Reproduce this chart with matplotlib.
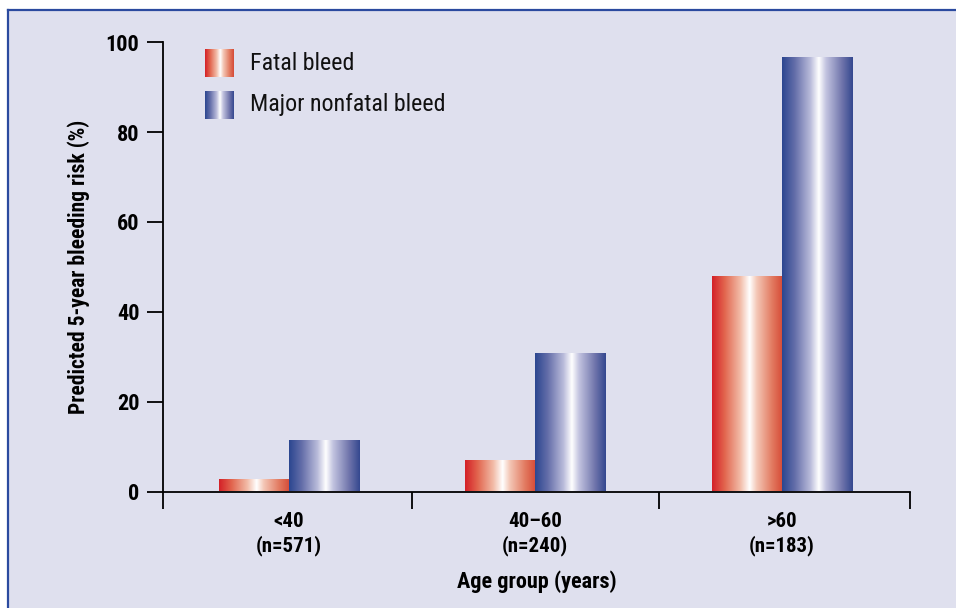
import matplotlib
matplotlib.use("Agg")
import matplotlib.pyplot as plt
import numpy as np
from matplotlib import font_manager
from matplotlib.colors import LinearSegmentedColormap
from matplotlib.patches import Rectangle
from matplotlib.lines import Line2D

# ---- data ----
categories = ["<40\n(n=571)", "40\u201360\n(n=240)", ">60\n(n=183)"]
series_names = ["Fatal bleed", "Major nonfatal bleed"]
fatal_bleed = [2.5, 6.8, 47.8]
major_nonfatal = [11.2, 30.6, 96.5]
y_ticks = [0, 20, 40, 60, 80, 100]
x_label = "Age group (years)"
y_label = "Predicted 5-year bleeding risk (%)"

# ---- fonts ----
def pick(fams):
    for f in fams:
        try:
            font_manager.findfont(f, fallback_to_default=False)
            return f
        except Exception:
            pass
    return "DejaVu Sans"

FONT = pick(["Liberation Sans Narrow", "Roboto Condensed", "DejaVu Sans"])
plt.rcParams["font.family"] = [FONT, "DejaVu Sans"]

BG = "#dfe0ee"
BORDER = "#2b4a9f"

red_cmap = LinearSegmentedColormap.from_list("red", [
    (0.0, "#d42027"), (0.18, "#e2664f"), (0.40, "#f2bca8"), (0.53, "#ffffff"),
    (0.63, "#f4c8b7"), (0.85, "#e27a60"), (1.0, "#d54a37")])
blue_cmap = LinearSegmentedColormap.from_list("blue", [
    (0.0, "#2b4690"), (0.18, "#646ea9"), (0.40, "#b9bbda"), (0.52, "#ffffff"),
    (0.62, "#c3c4e0"), (0.85, "#6f74ab"), (1.0, "#34488f")])
cmaps = [red_cmap, blue_cmap]
grad = np.linspace(0, 1, 256).reshape(1, -1)

W, H = 956, 608
fig = plt.figure(figsize=(W / 100, H / 100), dpi=100, facecolor="white")

# background panel and border
fig.patches.append(Rectangle((8 / W, 0), 1 - 8 / W, 1 - 10 / H, transform=fig.transFigure,
                             facecolor=BG, edgecolor="none", zorder=-10))
fig.lines.append(Line2D([8 / W, 1], [1 - 10 / H, 1 - 10 / H], transform=fig.transFigure,
                        color=BORDER, lw=1.6))
fig.lines.append(Line2D([8 / W, 8 / W], [0, 1 - 10 / H], transform=fig.transFigure,
                        color=BORDER, lw=1.6))

ax_l, ax_r = 163 / W, 910 / W
ax_b, ax_t = (H - 491.5) / H, (H - 42.3) / H
ax = fig.add_axes([ax_l, ax_b, ax_r - ax_l, ax_t - ax_b])
ax.set_facecolor("none")

XLIM = (-0.51, 2.52)
x = np.arange(len(categories))
bw = 0.284
all_series = [fatal_bleed, major_nonfatal]
for i, (vals, cm) in enumerate(zip(all_series, cmaps)):
    offs = (i - 0.5) * bw
    bars = ax.bar(x + offs, vals, width=bw, color="none", edgecolor="none", zorder=2)
    for b in bars:
        x0, y0 = b.get_x(), b.get_y()
        ax.imshow(grad, cmap=cm, aspect="auto", zorder=2,
                  extent=(x0, x0 + b.get_width(), y0, y0 + b.get_height()),
                  interpolation="bilinear")

ax.set_xlim(*XLIM)
ax.set_ylim(0, 100)

for s in ["top", "right"]:
    ax.spines[s].set_visible(False)
for s in ["left", "bottom"]:
    ax.spines[s].set_linewidth(1.3)
    ax.spines[s].set_zorder(3)

ax.set_yticks(y_ticks)
ax.set_yticklabels([str(t) for t in y_ticks], fontsize=16, fontweight="bold")
ax.tick_params(axis="y", direction="out", length=11.5, width=1.3, pad=5.5)

ax.set_xticks(x)
ax.set_xticklabels(categories, fontsize=15, fontweight="bold", linespacing=1.3)
ax.set_xticks([XLIM[0], 0.5, 1.5, XLIM[1]], minor=True)
ax.tick_params(axis="x", which="major", length=0, pad=14.5)
ax.tick_params(axis="x", which="minor", direction="out", length=12.5, width=1.3)

ax.set_xlabel(x_label, fontsize=16, fontweight="bold", labelpad=10)
ax.set_ylabel(y_label, fontsize=15.5, fontweight="bold", labelpad=11)

# legend (manual, gradient swatches)
leg_rows = [(0.9228, 0.985), (0.8293, 0.8916)]
for name, cm, (yb, yt) in zip(series_names, cmaps, leg_rows):
    ax.imshow(grad, cmap=cm, aspect="auto", extent=(0.0562, 0.0950, yb, yt),
              transform=ax.transAxes, zorder=2, interpolation="bilinear")
    ax.text(0.1165, (yb + yt) / 2, name, transform=ax.transAxes, fontsize=17.3,
            va="center", ha="left", color="#111111")

ax.set_xlim(*XLIM)
ax.set_ylim(0, 100)

fig.savefig("out.png", dpi=100, facecolor=fig.get_facecolor())
